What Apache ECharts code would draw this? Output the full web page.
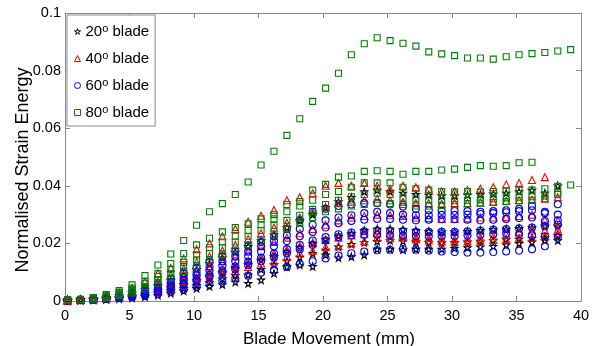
<!DOCTYPE html>
<html>
<head>
<meta charset="utf-8">
<script src="https://cdn.jsdelivr.net/npm/echarts@6/dist/echarts.min.js"></script>
<style>
  html, body { margin: 0; padding: 0; background: #fff; }
  #chart { width: 602px; height: 346px; }
</style>
</head>
<body>
<div id="chart"></div>
<script>
// blade movement (mm) of each sample
const xMm = [0.2, 1.2, 2.2, 3.2, 4.2, 5.2, 6.2, 7.2, 8.2, 9.2, 10.2, 11.2, 12.2, 13.2, 14.2, 15.2, 16.2, 17.2, 18.2, 19.2,
  20.2, 21.2, 22.2, 23.2, 24.2, 25.2, 26.2, 27.2, 28.2, 29.2, 30.2, 31.2, 32.2, 33.2, 34.2, 35.2, 36.2, 37.2, 38.2, 39.2];

const xTicks = [0, 5, 10, 15, 20, 25, 30, 35, 40];
const yTicks = [0, 0.02, 0.04, 0.06, 0.08, 0.1];

// normalised strain energy, several runs per blade angle
const blade20 = [
  [0.0003,0.0005,0.0008,0.0012,0.0018,0.0027,0.0039,0.0054,0.0071,0.009,0.011,0.013,0.015,0.017,0.019,0.021,0.023,0.0255,0.028,0.030,
   0.0325,0.0345,0.036,0.038,0.0385,0.038,0.0375,0.037,0.0368,0.0365,0.0365,0.0368,0.037,0.0372,0.0375,0.038,0.0385,0.0375,0.040],
  [0.0002,0.0004,0.0006,0.0009,0.0013,0.0019,0.0026,0.0035,0.0046,0.0058,0.0071,0.0085,0.0099,0.0113,0.0127,0.0141,0.0155,0.017,0.0185,0.020,
   0.0213,0.0225,0.0235,0.0245,0.025,0.025,0.0248,0.0245,0.0242,0.024,0.024,0.0242,0.0245,0.0248,0.025,0.0252,0.0255,0.026,0.026],
  [0.0002,0.0003,0.0005,0.0008,0.0011,0.0015,0.002,0.0027,0.0035,0.0044,0.0054,0.0065,0.0077,0.0089,0.0091,0.011,0.0126,0.0139,0.0152,0.0165,
   0.0177,0.0188,0.0197,0.0203,0.0207,0.021,0.0208,0.0205,0.0203,0.0202,0.0203,0.0205,0.0208,0.021,0.0213,0.0215,0.0218,0.022,0.0228],
  [0.0002,0.0003,0.0004,0.0006,0.0008,0.0011,0.0015,0.002,0.0027,0.0035,0.0044,0.0051,0.0057,0.0066,0.0061,0.0073,0.0096,0.0119,0.0125,0.012,
   0.016,0.015,0.0154,0.016,0.018,0.018,0.0178,0.018,0.018,0.018,0.0183,0.0185,0.0188,0.019,0.0195,0.020,0.0205,0.021,0.021]
];

const blade40 = [
  [0.0003,0.0006,0.001,0.0018,0.003,0.0045,0.0068,0.0096,0.0115,0.0148,0.018,0.020,0.0225,0.025,0.0275,0.0296,0.0316,0.035,0.036,0.0374,
   0.040,0.041,0.040,0.041,0.040,0.039,0.040,0.0395,0.039,0.038,0.038,0.0385,0.039,0.0395,0.0405,0.041,0.042,0.043],
  [0.0003,0.0005,0.0008,0.0013,0.0021,0.0032,0.0048,0.0068,0.009,0.0112,0.0135,0.0155,0.0175,0.0195,0.0215,0.0235,0.0255,0.0272,0.029,0.031,
   0.0325,0.034,0.0345,0.035,0.0355,0.035,0.0345,0.034,0.034,0.0338,0.034,0.034,0.0342,0.0345,0.0348,0.035,0.0352,0.0355,0.036],
  [0.0003,0.0004,0.0007,0.0011,0.0017,0.0026,0.0038,0.0052,0.0068,0.0085,0.0102,0.012,0.0138,0.0155,0.0172,0.019,0.0205,0.022,0.0235,0.025,
   0.0265,0.028,0.029,0.0295,0.030,0.0298,0.0295,0.029,0.0288,0.0285,0.0285,0.0287,0.029,0.029,0.0292,0.0295,0.030,0.028,0.028],
  [0.0003,0.0004,0.0006,0.001,0.0015,0.0022,0.0031,0.0042,0.0055,0.0068,0.0082,0.0097,0.0112,0.0125,0.014,0.0152,0.0165,0.0178,0.019,0.0202,
   0.0212,0.022,0.0228,0.0232,0.0235,0.0232,0.0228,0.0222,0.022,0.0218,0.0215,0.0218,0.022,0.0225,0.0232,0.024,0.0245,0.0245,0.0248],
  [0.0002,0.0004,0.0006,0.0009,0.0013,0.0019,0.0025,0.0033,0.004,0.0052,0.0065,0.0079,0.0094,0.0105,0.0118,0.013,0.0137,0.0154,0.0165,0.0175,
   0.0188,0.019,0.020,0.0208,0.022,0.0218,0.022,0.0215,0.021,0.0208,0.0205,0.0208,0.021,0.0212,0.0215,0.0218,0.022,0.0225,0.0235]
];

const blade60 = [
  [0.0003,0.0005,0.0008,0.0012,0.0019,0.0029,0.0042,0.0058,0.0076,0.0095,0.0115,0.0135,0.0155,0.0172,0.019,0.0205,0.0225,0.025,0.028,0.031,
   0.032,0.033,0.0335,0.034,0.034,0.0335,0.0328,0.032,0.0315,0.0313,0.0313,0.0312,0.031,0.0312,0.0315,0.032,0.033,0.031,0.0336],
  [0.0003,0.0004,0.0007,0.0011,0.0017,0.0025,0.0036,0.005,0.0066,0.0083,0.0101,0.012,0.0138,0.0155,0.0172,0.019,0.0208,0.0228,0.025,0.0265,
   0.028,0.029,0.0298,0.0305,0.031,0.0305,0.030,0.0298,0.0298,0.0299,0.0299,0.030,0.0302,0.0305,0.0308,0.0312,0.0315,0.0305,0.030],
  [0.0003,0.0004,0.0006,0.001,0.0015,0.0022,0.0032,0.0044,0.0058,0.0073,0.0089,0.0106,0.0122,0.0138,0.0155,0.0172,0.019,0.0208,0.0225,0.024,
   0.0255,0.027,0.0278,0.0282,0.0285,0.0285,0.0282,0.028,0.0282,0.0284,0.0284,0.0282,0.028,0.0282,0.0285,0.0288,0.029,0.0278,0.028],
  [0.0002,0.0004,0.0006,0.0009,0.0013,0.0019,0.0027,0.0037,0.0049,0.0062,0.0076,0.0091,0.0106,0.012,0.0136,0.015,0.0165,0.018,0.0195,0.021,
   0.0222,0.0232,0.0238,0.0242,0.0245,0.0245,0.0243,0.024,0.024,0.024,0.024,0.0242,0.0245,0.0248,0.025,0.0252,0.0255,0.026,0.0265],
  [0.0002,0.0003,0.0005,0.0008,0.0012,0.0017,0.0024,0.0033,0.0044,0.0056,0.0069,0.0083,0.0097,0.011,0.0124,0.0138,0.0152,0.0166,0.018,0.0195,
   0.021,0.0222,0.0228,0.023,0.023,0.0228,0.0226,0.0225,0.0225,0.0226,0.0226,0.0228,0.023,0.0232,0.0235,0.0232,0.0228,0.0225,0.022],
  [0.0002,0.0003,0.0005,0.0007,0.001,0.0014,0.0019,0.0025,0.0032,0.004,0.0049,0.0058,0.0068,0.0078,0.0088,0.0098,0.0108,0.0118,0.0128,0.0138,
   0.0148,0.0158,0.0166,0.0172,0.0176,0.0178,0.018,0.0178,0.0175,0.0172,0.017,0.0168,0.0168,0.017,0.0172,0.0175,0.018,0.019]
];

const blade80 = [
  [0.0003,0.0005,0.0009,0.0015,0.0025,0.004,0.006,0.0085,0.011,0.0135,0.016,0.0185,0.0205,0.0225,0.0245,0.0265,0.0285,0.031,0.033,0.035,
   0.037,0.038,0.0395,0.041,0.041,0.041,0.0395,0.039,0.0385,0.038,0.0378,0.038,0.0378,0.038,0.0382,0.0385,0.0385,0.039,0.0398,0.0403],
  [0.0003,0.0005,0.0008,0.0013,0.0022,0.0034,0.005,0.0072,0.0095,0.012,0.0143,0.0165,0.0185,0.0205,0.0225,0.0245,0.0262,0.028,0.0298,0.0318,
   0.0335,0.035,0.0362,0.037,0.0374,0.037,0.036,0.0355,0.0352,0.035,0.0348,0.035,0.0352,0.0355,0.0358,0.036,0.0362,0.0365,0.037],
  [0.0003,0.0004,0.0007,0.0011,0.0018,0.0028,0.0042,0.006,0.008,0.0102,0.0122,0.0142,0.016,0.0177,0.0195,0.0212,0.023,0.025,0.027,0.029,
   0.031,0.032,0.033,0.0335,0.034,0.0338,0.0335,0.033,0.033,0.0332,0.0335,0.0338,0.034,0.0342,0.0345,0.0348,0.035,0.0355,0.0375],
  [0.0003,0.0005,0.001,0.0018,0.003,0.0045,0.0068,0.0095,0.013,0.0165,0.0195,0.0218,0.024,0.0255,0.0268,0.0285,0.030,0.0335,0.0345,0.0385,
   0.0405,0.043,0.0434,0.045,0.0452,0.045,0.044,0.045,0.045,0.0455,0.0458,0.0464,0.047,0.0468,0.047,0.048,0.0482],
  [0.0003,0.0006,0.0012,0.0022,0.0036,0.0056,0.0088,0.0125,0.0163,0.0210,0.0263,0.0310,0.0338,0.0370,0.0413,0.0472,0.0520,0.0575,0.0633,0.0693,
   0.0739,0.0791,0.0855,0.0893,0.0914,0.0904,0.0895,0.0885,0.0865,0.0858,0.0852,0.0844,0.0844,0.0840,0.0848,0.0855,0.0859,0.0863,0.0868,0.0873]
];

const bladeNames = ['20° blade', '40° blade', '60° blade', '80° blade'];
const bladeColors = ['#000000', '#ff0000', '#0000ff', '#008000'];

const starPath = 'path://M50,0 L61,35 L98,35 L68,57 L79,91 L50,70 L21,91 L32,57 L2,35 L39,35 Z';
const bladeSymbols = [starPath, 'triangle', 'circle', 'rect'];
const symbolSizes = [7, 7, 7, 6];

const font = 'Liberation Sans, Arial, Helvetica, sans-serif';
const axisGrey = '#8a8a8a';

const chart = echarts.init(document.getElementById('chart'));

const series = [];
[blade20, blade40, blade60, blade80].forEach((runs, k) => {
  runs.forEach(run => {
    series.push({
      type: 'scatter',
      name: bladeNames[k],
      symbol: bladeSymbols[k],
      symbolSize: symbolSizes[k],
      itemStyle: { color: 'none', borderColor: bladeColors[k], borderWidth: 1.1, opacity: 1 },
      data: run.map((v, i) => [xMm[i], v]),
      silent: true
    });
  });
});

function boxAxis(shown, extra) {
  return Object.assign({
    type: 'value',
    axisLine: { show: true, onZero: false, lineStyle: { color: axisGrey, width: 1 } },
    axisTick: { show: true, inside: true, length: 5, lineStyle: { color: axisGrey } },
    splitLine: { show: false },
    axisLabel: { show: shown }
  }, extra);
}

const options = {
  animation: false,
  backgroundColor: '#fff',
  // keep the plot box fixed, labels may sit outside it
  grid: { left: 65, right: 21, top: 13, bottom: 45, containLabel: false, outerBoundsMode: 'none' },
  legend: {
    orient: 'vertical',
    left: 67,
    top: 15,
    padding: [8, 6, 6, 5],
    itemGap: 11,
    itemWidth: 6,
    itemHeight: 6,
    borderColor: axisGrey,
    borderWidth: 1,
    backgroundColor: '#fff',
    data: bladeNames.map((n, k) => ({
      name: n,
      icon: bladeSymbols[k],
      itemStyle: { color: 'none', borderColor: bladeColors[k], borderWidth: 1 }
    })),
    formatter: name => {
      const parts = name.split('°');
      return '{n|' + parts[0] + '}{s|o}{n|' + parts[1] + '}';
    },
    textStyle: {
      rich: {
        n: { fontSize: 15, fontFamily: font, color: '#000', lineHeight: 17 },
        s: { fontSize: 11, fontFamily: font, color: '#000', lineHeight: 11, verticalAlign: 'top' }
      }
    }
  },
  xAxis: [
    boxAxis(true, {
      min: 0, max: 40, interval: 5, position: 'bottom',
      name: 'Blade Movement (mm)', nameLocation: 'middle', nameGap: 30,
      nameTextStyle: { color: '#000', fontSize: 17, fontFamily: font, padding: [0, 0, 0, 12] },
      axisLabel: { show: true, color: '#000', fontSize: 14.5, fontFamily: font, margin: 7,
        formatter: v => xTicks.indexOf(v) >= 0 ? String(v) : '' }
    }),
    boxAxis(false, { min: 0, max: 40, interval: 5, position: 'top' })
  ],
  yAxis: [
    boxAxis(true, {
      min: 0, max: 0.1, interval: 0.02, position: 'left',
      name: 'Normalised Strain Energy', nameLocation: 'middle', nameGap: 33, nameMoveOverlap: false,
      nameTextStyle: { color: '#000', fontSize: 18, fontFamily: font, padding: [0, 26, 0, 0] },
      axisLabel: { show: true, color: '#000', fontSize: 14.5, fontFamily: font, margin: 4,
        formatter: v => String(yTicks.find(t => Math.abs(t - v) < 1e-9) ?? v) }
    }),
    boxAxis(false, { min: 0, max: 0.1, interval: 0.02, position: 'right' })
  ],
  series: series
};

chart.setOption(options);
window.addEventListener('resize', chart.resize);
</script>
</body>
</html>
